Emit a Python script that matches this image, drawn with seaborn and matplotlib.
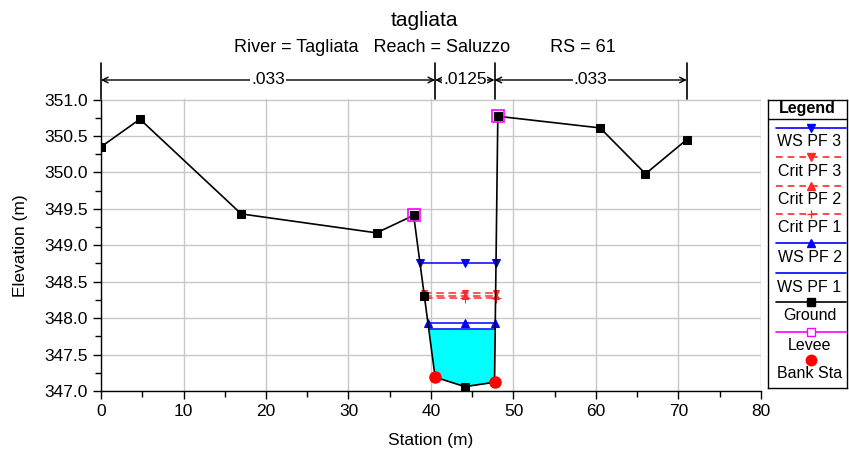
import numpy as np
import pandas as pd
import matplotlib
matplotlib.use("Agg")
import matplotlib.pyplot as plt
import seaborn as sns

# ---------------- data ----------------
station = [0.0, 4.72, 17.0, 33.4, 37.9, 39.2, 40.5, 44.1, 47.7, 48.1, 60.5, 66.0, 71.0]
ground = [350.35, 350.73, 349.43, 349.17, 349.41, 348.30, 347.19, 347.06, 347.12, 350.77, 350.61, 349.98, 350.45]
levee_sta = [37.9, 48.1]
levee_elev = [349.41, 350.77]
bank_sta = [40.5, 47.7]
bank_elev = [347.19, 347.12]
ws_pf3 = 348.76
crit_pf3 = 348.34
crit_pf2 = 348.31
crit_pf1 = 348.28
ws_pf2 = 347.93
ws_pf1 = 347.85
n_breaks = [0.0, 40.5, 47.7, 71.0]
n_values = [".033", ".0125", ".033"]
title = "tagliata"
subtitle = "River = Tagliata   Reach = Saluzzo        RS = 61"
x_ticks = [0, 10, 20, 30, 40, 50, 60, 70, 80]
y_ticks = [347.0, 347.5, 348.0, 348.5, 349.0, 349.5, 350.0, 350.5, 351.0]

sns.set_theme(style="ticks")
plt.rcParams['font.family'] = ['Liberation Sans', 'DejaVu Sans']

W, H = 849, 457
fig = plt.figure(figsize=(W / 100, H / 100), dpi=100)
L, R, T, B = 101, 761, 99.5, 391
ax = fig.add_axes([L / W, 1 - B / H, (R - L) / W, (B - T) / H])

sx = np.array(station)
gz = np.array(ground)
imin = int(np.argmin(gz))


def crossings(level):
    i = imin
    while i > 0 and gz[i - 1] < level:
        i -= 1
    xl = np.interp(level, [gz[i], gz[i - 1]], [sx[i], sx[i - 1]])
    j = imin
    while j < len(gz) - 1 and gz[j + 1] < level:
        j += 1
    xr = np.interp(level, [gz[j], gz[j + 1]], [sx[j], sx[j + 1]])
    return xl, xr


# water fill for WS PF 1
ax.fill_between(sx, gz, ws_pf1, where=gz < ws_pf1, interpolate=True,
                color="#00ffff", linewidth=0, zorder=2)

blue = "#0000ff"
red = "#ff2a2a"
levels = [
    (ws_pf3, blue, "-", "v"),
    (crit_pf3, red, (0, (5, 3)), "v"),
    (crit_pf2, red, (0, (5, 3)), "^"),
    (crit_pf1, red, (0, (5, 3)), "+"),
    (ws_pf2, blue, "-", "^"),
    (ws_pf1, blue, "-", None),
]
for lev, col, ls, mk in levels:
    xl, xr = crossings(lev)
    xs = [xl, sx[imin], xr]
    df = pd.DataFrame({"x": xs, "y": [lev] * 3})
    is_crit = col == red
    ms = 5 if is_crit else 6
    if mk == "+":
        ms = 7
    sns.lineplot(data=df, x="x", y="y", ax=ax, color=col, linestyle=ls,
                 linewidth=1.1, marker=mk, markersize=ms,
                 markeredgecolor=col, markerfacecolor=col, zorder=3,
                 estimator=None, sort=False)

# ground
gdf = pd.DataFrame({"x": station, "y": ground})
sns.lineplot(data=gdf, x="x", y="y", ax=ax, color="black", linewidth=1.2,
             marker="s", markersize=6, markeredgecolor="black",
             markerfacecolor="black", zorder=5, estimator=None, sort=False)
# levee
ax.plot(levee_sta, levee_elev, linestyle="none", marker="s", markersize=9,
        markerfacecolor="none", markeredgecolor="#ff00ff", markeredgewidth=1.2, zorder=6)
# bank stations
ax.plot(bank_sta, bank_elev, linestyle="none", marker="o", markersize=8,
        markerfacecolor="red", markeredgecolor="red", zorder=7)

ax.set_xlim(0, 80)
ax.set_ylim(347.0, 351.0)
ax.set_xticks(x_ticks)
ax.set_yticks(y_ticks)
ax.set_yticklabels([f"{v:.1f}" for v in y_ticks])
ax.set_xticks(np.arange(5, 80, 10), minor=True)
ax.set_yticks(np.arange(347.25, 351.0, 0.5), minor=True)
ax.grid(True, which="major", color="#c8c8c8", linewidth=1.0)
ax.set_axisbelow(True)
for s in ["top", "right"]:
    ax.spines[s].set_visible(False)
for s in ["left", "bottom"]:
    ax.spines[s].set_color("black")
    ax.spines[s].set_linewidth(1.0)
ax.tick_params(which="major", direction="out", length=6, width=1, color="black",
               labelsize=12.5, labelcolor="black")
ax.tick_params(which="minor", direction="out", length=4, width=1, color="black")
ax.set_xlabel("Station (m)", fontsize=12.5, labelpad=10, color="black")
ax.set_ylabel("Elevation (m)", fontsize=12.5, labelpad=12, color="black")

# Manning's n annotations
trans = ax.get_xaxis_transform()
y_arrow = (B - 80) / (B - T)
y_top = (B - 63) / (B - T)
for xb in n_breaks:
    ax.plot([xb, xb], [1.0, y_top], transform=trans, color="black", linewidth=1.2,
            clip_on=False, zorder=8)
for (a, b), lab in zip(zip(n_breaks[:-1], n_breaks[1:]), n_values):
    ax.annotate("", xy=(b, y_arrow), xytext=(a, y_arrow), xycoords=trans,
                textcoords=trans,
                arrowprops=dict(arrowstyle="<->", color="black", lw=1.0,
                                shrinkA=0, shrinkB=0, mutation_scale=10),
                annotation_clip=False)
    ax.text((a + b) / 2, y_arrow, lab, transform=trans, ha="center", va="center",
            fontsize=12.5, color="black",
            bbox=dict(facecolor="white", edgecolor="none", pad=0.5), zorder=9)

fig.text(0.5, 1 - 20 / H, title, ha="center", va="center", fontsize=15, color="black")
fig.text(0.5, 1 - 47 / H, subtitle, ha="center", va="center", fontsize=13, color="black")

# legend panel
lx0, lx1, ly0, ly1 = 768, 847, 100, 388
lax = fig.add_axes([lx0 / W, 1 - ly1 / H, (lx1 - lx0) / W, (ly1 - ly0) / H])
lax.set_xlim(lx0, lx1)
lax.set_ylim(ly1, ly0)
lax.set_xticks([])
lax.set_yticks([])
for s in lax.spines.values():
    s.set_color("black")
    s.set_linewidth(1.0)
lax.text((lx0 + lx1) / 2, 109, "Legend", ha="center", va="center", fontsize=11.5,
         fontweight="bold", color="black")
lax.axhline(119, color="black", linewidth=1.0)
entries = [
    ("WS PF 3", blue, "-", "v", "full"),
    ("Crit PF 3", red, (0, (4, 3)), "v", "full"),
    ("Crit PF 2", red, (0, (4, 3)), "^", "full"),
    ("Crit PF 1", red, (0, (4, 3)), "+", "full"),
    ("WS PF 2", blue, "-", "^", "full"),
    ("WS PF 1", blue, "-", None, "full"),
    ("Ground", "black", "-", "s", "full"),
    ("Levee", "#ff00ff", "-", "s", "none"),
    ("Bank Sta", "red", "none", "o", "full"),
]
line_y = [128, 157, 186, 214, 243, 273, 302, 332, 360]
lab_y = [142, 171, 199, 228, 257, 288, 316, 345, 373]
xm = (lx0 + lx1) / 2 + 3
for (lab, col, ls, mk, fill), yl, yt in zip(entries, line_y, lab_y):
    if ls != "none":
        lax.plot([776, 846], [yl, yl], color=col, linestyle=ls, linewidth=1.2)
    if mk is not None:
        ms = {"o": 7.5, "+": 6, "s": 6}.get(mk, 5.5)
        lax.plot([xm], [yl], marker=mk, color=col, markersize=ms,
                 markerfacecolor=col if fill == "full" else "white",
                 markeredgecolor=col, linestyle="none")
    lax.text((lx0 + lx1) / 2 + 2, yt, lab, ha="center", va="center", fontsize=11.5,
             color="black")

fig.savefig("out.png", dpi=100)
